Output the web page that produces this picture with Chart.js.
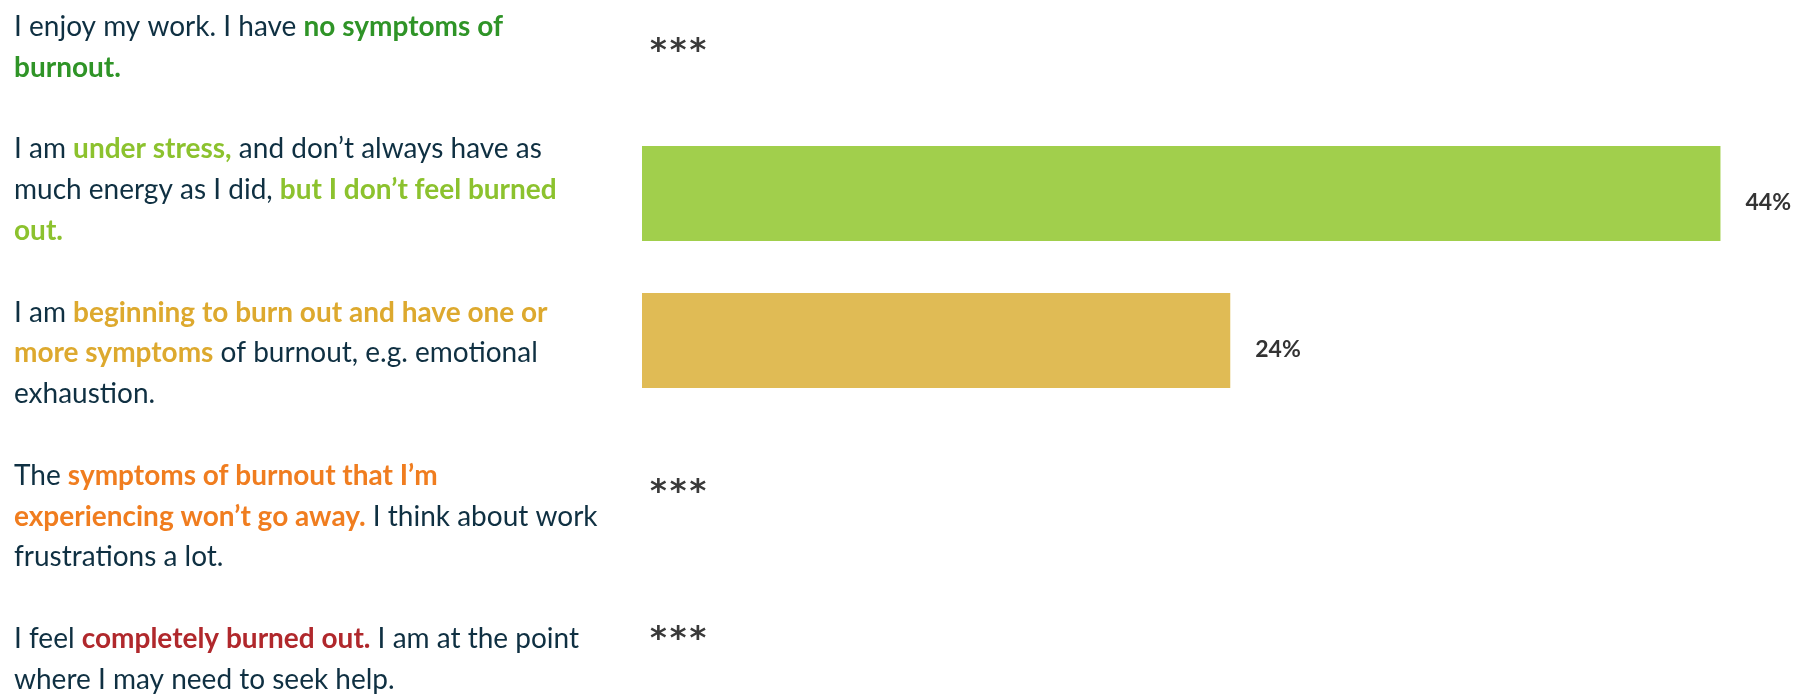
<!DOCTYPE html>
<html>
<head>
<meta charset="utf-8">
<script src="https://cdn.jsdelivr.net/npm/chart.js@4"></script>
<style>
html,body{margin:0;padding:0;background:#fff;}
#wrap{width:1794px;height:694px;position:relative;}
</style>
</head>
<body>
<div id="wrap"><canvas id="c" width="1794" height="694"></canvas></div>
<script>
// ---- data ----
const categories = ['No burnout', 'Under stress', 'Beginning to burn out', 'Persistent symptoms', 'Completely burned out'];
const values = [null, 44, 24, null, null];
const missingMark = '***';
const valueSuffix = '%';
// statement text: lines of [text, tone] segments
const statements = [
  [[['I enjoy my work. I have ', 'plain'], ['no symptoms of', 'c0']], [['burnout.', 'c0']]],
  [[['I am ', 'plain'], ['under stress,', 'c1'], [' and don\u2019t always have as', 'plain']],
   [['much energy as I did, ', 'plain'], ['but I don\u2019t feel burned', 'c1']],
   [['out.', 'c1']]],
  [[['I am ', 'plain'], ['beginning to burn out and have one or', 'c2']],
   [['more symptoms', 'c2'], [' of burnout, e.g. emotional', 'plain']],
   [['exhaustion.', 'plain']]],
  [[['The ', 'plain'], ['symptoms of burnout that I\u2019m', 'c3']],
   [['experiencing won\u2019t go away.', 'c3'], [' I think about work', 'plain']],
   [['frustrations a lot.', 'plain']]],
  [[['I feel ', 'plain'], ['completely burned out.', 'c4'], [' I am at the point', 'plain']],
   [['where I may need to seek help.', 'plain']]]
];

// ---- styles ----
const toneColors = { plain: '#0F3042', c0: '#2F9427', c1: '#8CC22E', c2: '#DDA92E', c3: '#F07D1F', c4: '#B0282C' };
const barColors = ['#2F9427', '#A1CF4C', '#E0BB55', '#F07D1F', '#B0282C'];
const FONT = 'Lato, "Open Sans", sans-serif';

const statementPlugin = {
  id: 'statements',
  afterDraw(chart) {
    const ctx = chart.ctx;
    ctx.save();
    ctx.textBaseline = 'middle';
    ctx.textAlign = 'left';
    const lineH = 40.8;
    let y = 27;
    statements.forEach((block) => {
      block.forEach((line) => {
        let x = 14;
        line.forEach(([txt, tone]) => {
          ctx.font = (tone === 'plain' ? '400 ' : '700 ') + '28px ' + FONT;
          ctx.fillStyle = toneColors[tone];
          ctx.fillText(txt, x, y);
          x += ctx.measureText(txt).width;
        });
        y += lineH;
      });
      y += lineH;
    });
    // value labels / missing marks
    const meta = chart.getDatasetMeta(0);
    const xs = chart.scales.x;
    meta.data.forEach((el, i) => {
      const cy = chart.scales.y.getPixelForValue(i);
      if (values[i] === null) {
        ctx.font = '700 32px "DejaVu Sans", sans-serif';
        ctx.fillStyle = '#3A3A3A';
        ctx.letterSpacing = '3px';
        ctx.fillText(missingMark, xs.getPixelForValue(0) + 8, cy + 5);
        ctx.letterSpacing = '0px';
      } else {
        ctx.font = '700 23px ' + FONT;
        ctx.fillStyle = '#333333';
        ctx.fillText(values[i] + valueSuffix, el.x + 25, cy + 9);
      }
    });
    ctx.restore();
  }
};

new Chart(document.getElementById('c'), {
  type: 'bar',
  data: {
    labels: categories,
    datasets: [{
      data: values,
      backgroundColor: barColors,
      borderWidth: 0,
      barPercentage: 0.646,
      categoryPercentage: 1
    }]
  },
  options: {
    indexAxis: 'y',
    responsive: false,
    animation: false,
    devicePixelRatio: 1,
    layout: { padding: { left: 642, right: 0, top: 46.5, bottom: 59.5 } },
    plugins: { legend: { display: false }, tooltip: { enabled: false } },
    scales: {
      x: { min: 0, max: 47, display: false },
      y: { display: false, offset: false }
    }
  },
  plugins: [statementPlugin]
});
</script>
</body>
</html>
